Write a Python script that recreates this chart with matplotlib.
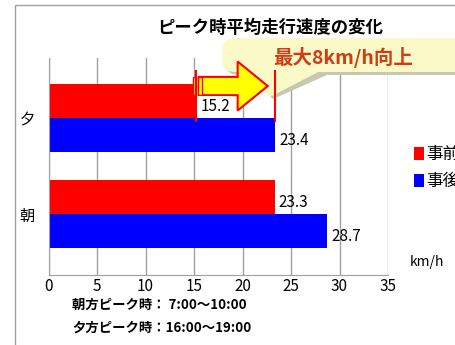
import matplotlib.pyplot as plt
from matplotlib.patches import FancyArrow, FancyBboxPatch, Polygon, Rectangle

plt.rcParams['font.family'] = ['Noto Sans CJK JP', 'DejaVu Sans']

categories = ['朝', '夕']
before = [23.3, 15.2]
after = [28.7, 23.4]
series_names = ['事前', '事後']
xticks = [0, 5, 10, 15, 20, 25, 30, 35]
title = 'ピーク時平均走行速度の変化'
callout = '最大8km/h向上'
notes = ['朝方ピーク時： 7:00〜10:00', '夕方ピーク時：16:00〜19:00']

W, H = 455, 345
fig = plt.figure(figsize=(W / 100, H / 100), dpi=100)


def fx(px):
    return px / W


def fy(py):
    return 1 - py / H


# outer frame
fig.patches.append(Rectangle((fx(15), -0.1), 2, fy(5) + 0.1, transform=fig.transFigure,
                             fill=False, edgecolor='#a0a0a0', lw=1, zorder=0))

ax = fig.add_axes([fx(48.5), fy(275), fx(388) - fx(48.5), fy(58) - fy(275)])
ax.set_xlim(0, 35)
ax.set_ylim(-0.635, 1.625)
ax.set_axisbelow(True)

h = 0.354
ypos = list(range(len(categories)))
b1 = ax.barh([y + h / 2 for y in ypos], before, height=h, color='#ff0000', zorder=2)
b2 = ax.barh([y - h / 2 for y in ypos], after, height=h, color='#0000ff', zorder=2)

for y, v in zip(ypos, before):
    kw = dict(bbox=dict(facecolor='white', edgecolor='none', pad=1.5)) if v < 20 else {}
    ax.text(v + 0.45, y + h / 2 - 0.06, f'{v}', va='center', ha='left', fontsize=11, zorder=6, **kw)
for y, v in zip(ypos, after):
    ax.text(v + 0.45, y - h / 2 - 0.06, f'{v}', va='center', ha='left', fontsize=11, zorder=6)

ax.set_xticks(xticks)
ax.set_xticklabels([str(t) for t in xticks], fontsize=11)
ax.set_yticks(ypos)
ax.set_yticklabels(categories, fontsize=11)
ax.tick_params(axis='both', length=0)
ax.tick_params(axis='y', pad=10)
ax.tick_params(axis='x', pad=2)
ax.grid(axis='x', color='#a0a0a0', lw=1)
for s in ['top', 'right']:
    ax.spines[s].set_visible(False)
for s in ['left', 'bottom']:
    ax.spines[s].set_color('#a0a0a0')

# callout bubble (above the grid, below the arrow)
tf = fig.transFigure
bubble = [
    FancyBboxPatch((fx(226), fy(75)), fx(480) - fx(226), fy(41) - fy(75),
                   boxstyle='round,pad=0,rounding_size=0.03', facecolor='#c8c8b0',
                   edgecolor='none'),
    Polygon([[fx(242), fy(73)], [fx(327), fy(75)], [fx(273), fy(99)]], closed=True,
            facecolor='#c8c8b0', edgecolor='none'),
    FancyBboxPatch((fx(222), fy(72)), fx(480) - fx(222), fy(38) - fy(72),
                   boxstyle='round,pad=0,rounding_size=0.03', facecolor='#fafac8',
                   edgecolor='none'),
    Polygon([[fx(238), fy(70)], [fx(322), fy(70)], [fx(270), fy(97)]], closed=True,
            facecolor='#fafac8', edgecolor='none'),
]
for i, p in enumerate(bubble):
    p.set_transform(tf)
    p.set_clip_on(False)
    p.set_zorder(1 + i * 0.1)
    ax.add_patch(p)

# improvement arrow on evening row
ax.vlines([before[1], after[1]], 0.958, 1.5, color='#ff0000', lw=1.5, zorder=5)
ay = 1.333
ax.add_patch(FancyArrow(before[1] + 0.3, ay, after[1] - 0.8 - before[1] - 0.3, 0, width=0.19,
                        head_width=0.51, head_length=3.1, length_includes_head=True,
                        facecolor='#ffff00', edgecolor='#ff0000', lw=1.5, zorder=4))
for x0 in [before[1] - 0.3, before[1] + 0.25]:
    ax.add_patch(Rectangle((x0, ay - 0.095), 0.35, 0.19, facecolor='#ffff00',
                           edgecolor='#ff0000', lw=1, zorder=4))

ax.text(fx(343), fy(58), callout, transform=tf, ha='center', va='center',
        fontsize=14, fontweight='bold', color='#d03c14', zorder=7, clip_on=False)

fig.text(fx(270), fy(28), title, ha='center', va='center', fontsize=12.5, fontweight='bold')

fig.legend([b1, b2], series_names, loc='upper left', bbox_to_anchor=(fx(406), fy(138)),
           frameon=False, fontsize=12, handlelength=0.6, handleheight=0.8,
           handletextpad=0.1, labelspacing=0.6, borderpad=0)

fig.text(fx(410), fy(262), 'km/h', ha='left', va='center', fontsize=10)
fig.text(fx(72), fy(305), notes[0], ha='left', va='center', fontsize=9.6, fontweight='bold')
fig.text(fx(72), fy(328), notes[1], ha='left', va='center', fontsize=9.6, fontweight='bold')

fig.savefig('out.png', dpi=100)
